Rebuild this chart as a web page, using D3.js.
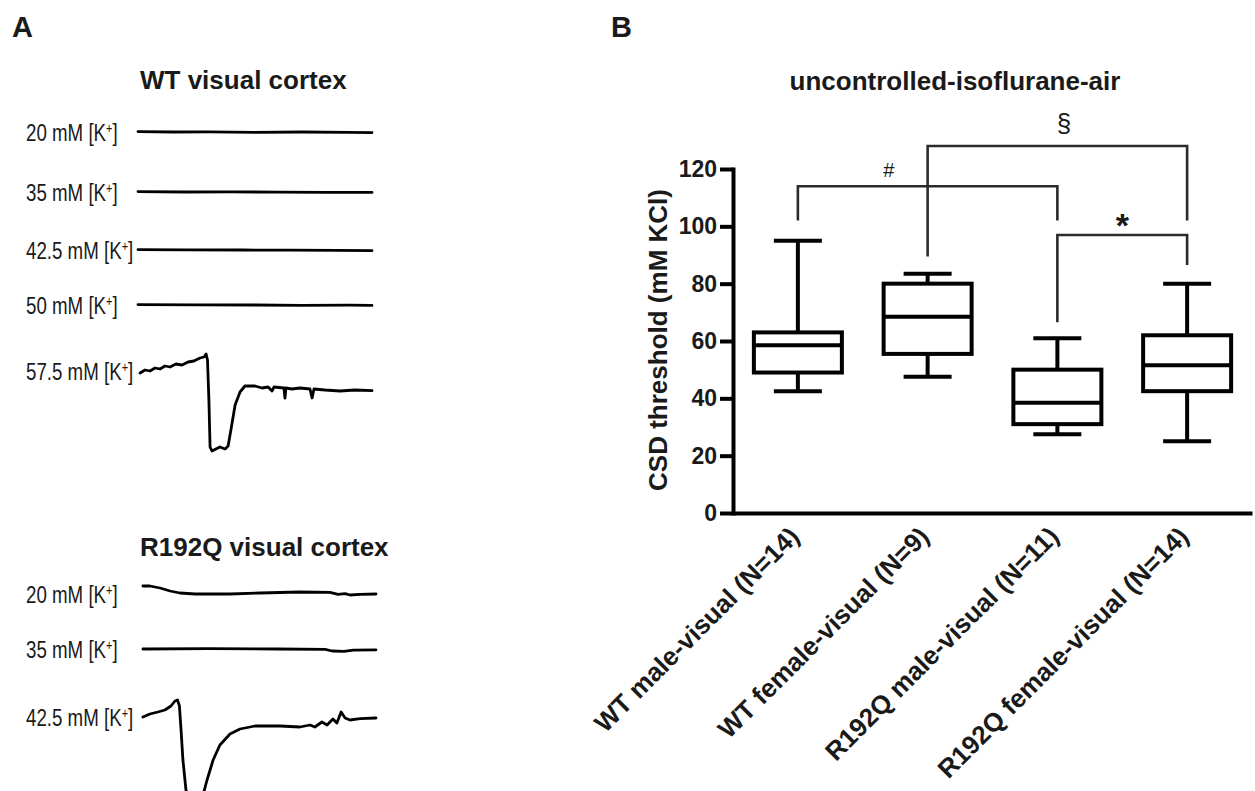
<!DOCTYPE html>
<html>
<head>
<meta charset="utf-8">
<script src="https://cdn.jsdelivr.net/npm/d3@7"></script>
<style>
  body { margin: 0; background: #fff; }
  text { font-family: "Liberation Sans", Arial, Helvetica, sans-serif; fill: #1a1a1a; }
</style>
</head>
<body>
<svg id="fig" width="1255" height="791"></svg>
<script>
// ---- panel A: example traces, [time (% of sweep), DC potential (mV, rel. to baseline)]
var wtConc = ['20', '35', '42.5', '50', '57.5'];
var wt20 = [[0, 0.1], [15, 0], [30, 0.05], [50, -0.1], [70, 0], [90, -0.1], [100, -0.15]];
var wt35 = [[0, 0.1], [20, 0], [40, 0.05], [60, -0.05], [80, -0.1], [100, -0.1]];
var wt425 = [[0, 0.1], [20, 0.05], [45, 0], [65, -0.05], [85, -0.1], [100, -0.15]];
var wt50 = [[0, 0.1], [25, 0.05], [50, 0], [70, -0.1], [90, -0.05], [100, -0.1]];
var wt575 = [[0.9, -0.5], [3, 0.25], [5.1, 0], [7.3, 0.75], [9.4, 0.5], [11.5, 1.25], [13.7, 1],
  [16.2, 1.75], [18.8, 1.5], [21.4, 2.25], [23.9, 2.5], [26.5, 3.25], [28.2, 3.5], [29.1, 4.25],
  [29.7, 2.75], [30.3, -7.25], [30.8, -19], [31.6, -20], [33.3, -19.5], [35, -19], [37.2, -19.5],
  [38.5, -18.75], [39.7, -14.75], [41.5, -8.5], [43.6, -5.25], [45.7, -3.75], [50, -3.75],
  [53, -4.25], [55.6, -4], [57.3, -5], [58.1, -4], [62.4, -4.25], [62.8, -6.75], [63.2, -4.25],
  [65.8, -4.5], [69.2, -4.25], [73.5, -4.5], [74.4, -6.75], [75.2, -4.5], [79.9, -4.75],
  [86.3, -5], [92.7, -4.75], [100, -4.9]];

var r192qConc = ['20', '35', '42.5'];
var r20 = [[2.1, 2], [5.1, 2], [9.4, 1.5], [13.7, 0.75], [17.9, 0.25], [24.4, 0], [39.3, 0],
  [52.1, 0.25], [69.2, 0.5], [82, 0.4], [85.5, -0.1], [88.5, 0.1], [90.6, -0.25], [94.9, -0.1], [101.7, 0]];
var r35 = [[2.1, 0], [30, 0.1], [60, 0], [80, -0.1], [83, -0.5], [88, -0.6], [92, -0.3], [101.7, -0.2]];
var r425 = [[2.1, 0], [5.1, 0.75], [8.5, 1.25], [11.5, 1.75], [14.1, 2.75], [15.8, 4], [16.9, 4.25],
  [17.7, 2.75], [18.4, -3.25], [19.2, -10.75], [20.5, -18.25], [22.2, -20.75], [25.2, -21.5],
  [27.8, -19.5], [29.5, -15.75], [32.1, -10.75], [35, -7], [39.3, -4.25], [43.6, -3], [50, -2.25],
  [60.7, -2.25], [69.2, -2.5], [73.5, -2], [75.6, -2.5], [78.6, -1.25], [80.8, -2], [83.3, -0.5],
  [85, -1.5], [86.8, 1.25], [88.5, -0.25], [90.6, -0.75], [94.9, -0.4], [101.7, -0.25]];

// ---- panel B: CSD threshold box plots (mM KCl)
var groups = ['WT male-visual (N=14)', 'WT female-visual (N=9)', 'R192Q male-visual (N=11)', 'R192Q female-visual (N=14)'];
var mins = [42.5, 47.5, 27.5, 25];
var q1s = [49, 55.5, 31, 42.5];
var medians = [58.5, 68.5, 38.5, 51.5];
var q3s = [63, 80, 50, 62];
var maxs = [95, 83.5, 61, 80];
var yTicks = [0, 20, 40, 60, 80, 100, 120];

// significance brackets: group pair, bar height, leg ends (mM KCl), mark
var bracketPairs = [[0, 2], [1, 3], [2, 3]];
var bracketHeights = [114, 128, 97];
var bracketEnds = [[102, 102], [89.5, 102], [66.5, 86.5]];
var bracketLabels = ['#', '§', '*'];

var svg = d3.select('#fig');
svg.append('rect').attr('width', 1255).attr('height', 791).attr('fill', '#fff');

// panel letters
svg.append('text').attr('x', 12).attr('y', 37).style('font-size', '29px').style('font-weight', 'bold').text('A');
svg.append('text').attr('x', 611).attr('y', 37).style('font-size', '29px').style('font-weight', 'bold').text('B');

// ---------- panel A ----------
var tScale = d3.scaleLinear().domain([0, 100]).range([138, 372]);

function tracePanel(title, titleY, conc, rowY, traces) {
  var g = svg.append('g');
  g.append('text')
    .attr('x', 140).attr('y', titleY)
    .style('font-size', '26px').style('font-weight', 'bold')
    .text(title);

  var rows = d3.scaleOrdinal().domain(conc).range(rowY);

  conc.forEach(function(c, i) {
    var lab = g.append('text')
      .attr('transform', 'translate(26,' + rows(c) + ') scale(0.78,1)')
      .attr('dy', '0.36em')
      .style('font-size', '24px');
    lab.append('tspan').text(c + ' mM [K');
    lab.append('tspan').attr('baseline-shift', 'super').style('font-size', '14px').text('+');
    lab.append('tspan').text(']');

    var v = d3.scaleLinear().domain([0, 1]).range([rows(c), rows(c) - 4]);
    var line = d3.line()
      .x(function(d) { return tScale(d[0]); })
      .y(function(d) { return v(d[1]); });
    g.append('path')
      .datum(traces[i])
      .attr('d', line)
      .attr('fill', 'none')
      .attr('stroke', '#000')
      .attr('stroke-width', 2.8)
      .attr('stroke-linejoin', 'round')
      .attr('stroke-linecap', 'round');
  });
}

tracePanel('WT visual cortex', 89, wtConc, [132, 192, 250, 305, 371], [wt20, wt35, wt425, wt50, wt575]);
tracePanel('R192Q visual cortex', 556, r192qConc, [594, 649, 717], [r20, r35, r425]);

// ---------- panel B ----------
var x = d3.scaleBand().domain(groups).range([733, 1252]).padding(0);
var y = d3.scaleLinear().domain([0, 120]).range([513, 169]);
var boxW = 88, capW = 48;

svg.append('text')
  .attr('x', 955).attr('y', 90)
  .attr('text-anchor', 'middle')
  .style('font-size', '26px').style('font-weight', 'bold')
  .text('uncontrolled-isoflurane-air');

svg.append('text')
  .attr('transform', 'translate(667,340) rotate(-90)')
  .attr('text-anchor', 'middle')
  .style('font-size', '26px').style('font-weight', 'bold')
  .text('CSD threshold (mM KCl)');

// y axis
var yAxis = svg.append('g')
  .attr('transform', 'translate(733,0)')
  .call(d3.axisLeft(y).tickValues(yTicks).tickSize(13).tickSizeOuter(0).tickPadding(3));
yAxis.select('.domain').attr('stroke', '#000').attr('stroke-width', 4).attr('stroke-linecap', 'square');
yAxis.selectAll('.tick line').attr('stroke', '#000').attr('stroke-width', 4);
yAxis.selectAll('.tick text')
  .style('font-size', '23px').style('font-weight', 'bold')
  .style('font-family', '"Liberation Sans", Arial, sans-serif').attr('fill', '#1a1a1a');

// x axis
var xAxis = svg.append('g')
  .attr('transform', 'translate(0,513)')
  .call(d3.axisBottom(x).tickSize(0).tickSizeOuter(0));
xAxis.select('.domain').attr('stroke', '#000').attr('stroke-width', 4);
xAxis.selectAll('.tick text')
  .attr('x', 0).attr('y', 0).attr('dy', 0)
  .attr('transform', 'translate(3,25) rotate(-45)')
  .style('text-anchor', 'end')
  .style('font-size', '26px').style('font-weight', 'bold')
  .style('font-family', '"Liberation Sans", Arial, sans-serif').attr('fill', '#1a1a1a');

// boxes
var boxes = svg.append('g').attr('stroke', '#000').attr('stroke-width', 4).attr('fill', 'none');
groups.forEach(function(gname, i) {
  var cx = x(gname) + x.bandwidth() / 2;
  boxes.append('line').attr('x1', cx).attr('x2', cx).attr('y1', y(q3s[i])).attr('y2', y(maxs[i]));
  boxes.append('line').attr('x1', cx).attr('x2', cx).attr('y1', y(q1s[i])).attr('y2', y(mins[i]));
  boxes.append('line').attr('x1', cx - capW / 2).attr('x2', cx + capW / 2).attr('y1', y(maxs[i])).attr('y2', y(maxs[i]));
  boxes.append('line').attr('x1', cx - capW / 2).attr('x2', cx + capW / 2).attr('y1', y(mins[i])).attr('y2', y(mins[i]));
  boxes.append('rect')
    .attr('x', cx - boxW / 2).attr('y', y(q3s[i]))
    .attr('width', boxW).attr('height', y(q1s[i]) - y(q3s[i]))
    .attr('fill', '#fff');
  boxes.append('line').attr('x1', cx - boxW / 2).attr('x2', cx + boxW / 2).attr('y1', y(medians[i])).attr('y2', y(medians[i]));
});

// significance brackets
var cxOf = function(i) { return x(groups[i]) + x.bandwidth() / 2; };
var labelAt = [0.7, 2.05, 2.5];           // label position, in group units
var labelSize = ['20px', '26px', '34px'];
var labelLift = [9, 14, -2];
bracketPairs.forEach(function(p, k) {
  var a = cxOf(p[0]), b = cxOf(p[1]);
  svg.append('path')
    .attr('d', 'M' + a + ',' + y(bracketEnds[k][0]) + 'V' + y(bracketHeights[k]) +
               'H' + b + 'V' + y(bracketEnds[k][1]))
    .attr('fill', 'none')
    .attr('stroke', '#2b2b2b')
    .attr('stroke-width', 2.6);
  var lx = cxOf(0) + labelAt[k] * x.bandwidth();
  svg.append('text')
    .attr('x', lx).attr('y', y(bracketHeights[k]) - labelLift[k])
    .attr('text-anchor', 'middle')
    .style('font-size', labelSize[k])
    .style('font-weight', k === 2 ? 'bold' : 'normal')
    .text(bracketLabels[k]);
});
</script>
</body>
</html>
